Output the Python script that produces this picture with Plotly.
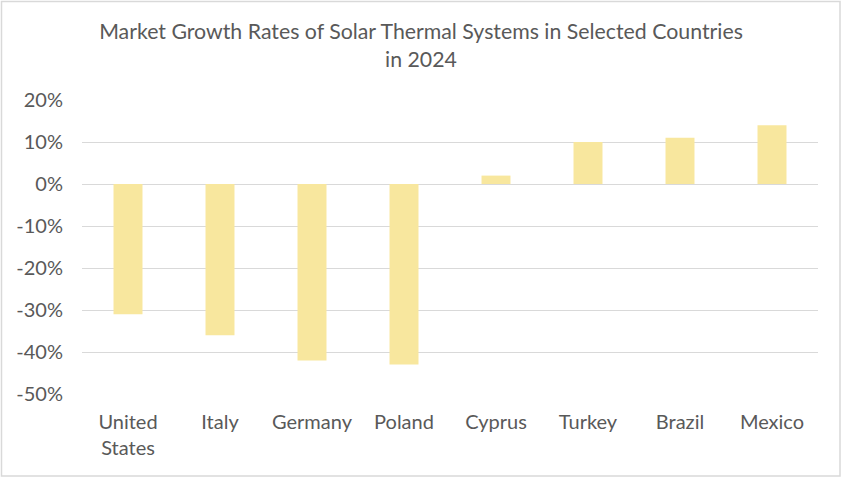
import plotly.graph_objects as go

countries = ["United<br>States", "Italy", "Germany", "Poland", "Cyprus", "Turkey", "Brazil", "Mexico"]
growth = [-0.31, -0.36, -0.42, -0.43, 0.02, 0.10, 0.11, 0.14]

y_ticks = [0.2, 0.1, 0.0, -0.1, -0.2, -0.3, -0.4, -0.5]
y_labels = ["20%", "10%", "0%", "-10%", "-20%", "-30%", "-40%", "-50%"]

W, H = 842, 478
ml, mr, mt, mb = 82, 24, 100, 84

fig = go.Figure()
fig.add_trace(go.Bar(
    x=countries,
    y=growth,
    marker=dict(color="#F8E79E", line=dict(width=0)),
    width=0.315,
))

text_color = "#595959"
fig.update_layout(
    width=W, height=H,
    margin=dict(l=ml, r=mr, t=mt, b=mb),
    paper_bgcolor="white",
    plot_bgcolor="white",
    font=dict(family="Lato, Open Sans, sans-serif", color=text_color, size=20),
    title=dict(
        text="Market Growth Rates of Solar Thermal Systems in Selected Countries<br>in 2024",
        x=0.5, xanchor="center", y=1 - 39 / H, yanchor="middle",
        font=dict(size=21.3, color=text_color),
    ),
    showlegend=False,
)
fig.update_yaxes(
    range=[-0.5, 0.2],
    tickvals=y_ticks,
    ticktext=y_labels,
    showgrid=True, gridcolor="#D9D9D9", gridwidth=1,
    zeroline=False, showline=False,
    ticks="", ticklabelstandoff=18,
)
fig.update_xaxes(
    showgrid=False, showline=False, ticks="",
    zeroline=False, tickangle=0, ticklabelstandoff=14,
)
# outer chart border
pw = W - ml - mr
ph = H - mt - mb
fig.add_shape(
    type="rect", xref="paper", yref="paper",
    x0=-(ml - 1.5) / pw, x1=1 + (mr - 2) / pw,
    y0=-(mb - 2) / ph, y1=1 + (mt - 1.5) / ph,
    line=dict(color="#D9D9D9", width=1.5),
    fillcolor="rgba(0,0,0,0)", layer="below",
)

# no page margin so the 842x478 figure fills the window
fig.write_html(
    "out.html",
    config={"displayModeBar": False},
    post_script="document.body.style.margin='0';",
)
